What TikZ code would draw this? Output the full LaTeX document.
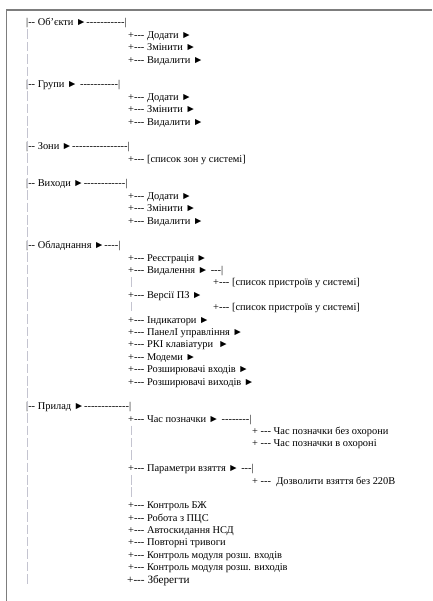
\documentclass[tikz,border=0pt]{standalone}
\usepackage{fontspec}
\setmainfont{Liberation Serif}[Ligatures=TeXOff]
\definecolor{railgray}{RGB}{196,196,208}
\definecolor{framegray}{RGB}{125,125,125}
\tikzset{
  item/.style={anchor=base west, inner sep=0pt, font=\fontsize{10.4}{12}\selectfont},
  rail/.style={railgray, line width=1pt, dash pattern=on 9.5pt off 2.88pt},
}

\begin{document}
\begin{tikzpicture}[x=1pt, y=-12.38pt]
  \useasboundingbox (0pt,26pt) rectangle (432pt,-575pt);
  % page frame
  \draw[framegray, line width=1.2pt] (6.5pt,-575pt) -- (6.5pt,16pt) -- (432pt,16pt);

  % Об'єкти
  \node[item] (obj) at (26,0) {|-- Об’єкти ►-----------|};
  \node[item] (objadd) at (128,1) {+--- Додати ►};
  \node[item] (objedit) at (128,2) {+--- Змінити ►};
  \node[item] (objdel) at (128,3) {+--- Видалити ►};

  % Групи
  \node[item] (grp) at (26,5) {|-- Групи ► -----------|};
  \node[item] (grpadd) at (128,6) {+--- Додати ►};
  \node[item] (grpedit) at (128,7) {+--- Змінити ►};
  \node[item] (grpdel) at (128,8) {+--- Видалити ►};

  % Зони
  \node[item] (zone) at (26,10) {|-- Зони ►----------------|};
  \node[item] (zonelist) at (128,11) {+--- [список зон у системі]};

  % Виходи
  \node[item] (out) at (26,13) {|-- Виходи ►------------|};
  \node[item] (outadd) at (128,14) {+--- Додати ►};
  \node[item] (outedit) at (128,15) {+--- Змінити ►};
  \node[item] (outdel) at (128,16) {+--- Видалити ►};

  % Обладнання
  \node[item] (eq) at (26,18) {|-- Обладнання ►----|};
  \node[item] (eqreg) at (128,19) {+--- Реєстрація ►};
  \node[item] (eqdel) at (128,20) {+--- Видалення ► ---|};
  \node[item] (eqdellist) at (213,21) {+--- [список пристроїв у системі]};
  \node[item] (eqfw) at (128,22) {+--- Версії ПЗ ►};
  \node[item] (eqfwlist) at (213,23) {+--- [список пристроїв у системі]};
  \node[item] (eqind) at (128,24) {+--- Індикатори ►};
  \node[item] (eqpanel) at (128,25) {+--- ПанелІ управління ►};
  \node[item] (eqlcd) at (128,26) {+--- РКІ клавіатури \ ►};
  \node[item] (eqmodem) at (128,27) {+--- Модеми ►};
  \node[item] (eqexin) at (128,28) {+--- Розширювачі входів ►};
  \node[item] (eqexout) at (128,29) {+--- Розширювачі виходів ►};

  % Прилад
  \node[item] (dev) at (26,31) {|-- Прилад ►-------------|};
  \node[item] (devtime) at (128,32) {+--- Час позначки ► --------|};
  \node[item] (devtimeoff) at (252,33) {+ --- Час позначки без охорони};
  \node[item] (devtimeon) at (252,34) {+ --- Час позначки в охороні};
  \node[item] (devarm) at (128,36) {+--- Параметри взяття ► ---|};
  \node[item] (devarmac) at (252,37) {+ --- \ Дозволити взяття без 220В};
  \node[item] (devbat) at (128,39) {+--- Контроль БЖ};
  \node[item] (devpcs) at (128,40) {+--- Робота з ПЦС};
  \node[item] (devreset) at (128,41) {+--- Автоскидання НСД};
  \node[item] (devrep) at (128,42) {+--- Повторні тривоги};
  \node[item] (devmodin) at (128,43) {+--- Контроль модуля розш. входів};
  \node[item] (devmodout) at (128,44) {+--- Контроль модуля розш. виходів};
  \node[item, font=\fontsize{11.2}{13}\selectfont] (save) at (127,45) {+--- Зберегти};

  % grey guide rails
  \draw[rail] ([xshift=1.3pt,yshift=-3.4pt]obj.base west)
    -- ([xshift=1.3pt,yshift=-0.5pt]obj.base west |- save.base);
  \draw[rail, dash pattern=on 9.5pt off 15.26pt] ([xshift=3pt,yshift=-3.4pt]eqdel.base west)
    -- ([xshift=3pt,yshift=-0.5pt]eqdel.base west |- eqfwlist.base);
  \draw[rail] ([xshift=3pt,yshift=-3.4pt]devtime.base west)
    -- ([xshift=3pt,yshift=11.88pt]devtime.base west |- devarm.base);
  \draw[rail] ([xshift=3pt,yshift=-3.4pt]devarm.base west)
    -- ([xshift=3pt,yshift=11.88pt]devarm.base west |- devbat.base);
\end{tikzpicture}
\end{document}
